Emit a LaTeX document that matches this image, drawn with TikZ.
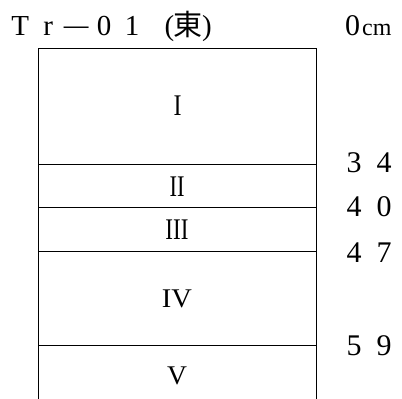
\documentclass[tikz,border=0pt]{standalone}
\usepackage{fontspec}
\usepackage{graphicx}
\setmainfont{Liberation Serif}
\newfontfamily\cjkfont{Noto Sans CJK JP}
\begin{document}
\begin{tikzpicture}[x=1pt,y=1pt,
  layerline/.style={line width=1pt},
  numlabel/.style={inner sep=0pt,anchor=west,font=\fontsize{30}{36}\selectfont},
  romlabel/.style={inner sep=0pt,anchor=center,font=\fontsize{30}{36}\selectfont}]
\useasboundingbox (0,0) rectangle (402,-399);
% title
\node[inner sep=0pt,anchor=base west,font=\fontsize{29}{34}\selectfont] (title) at (6,-35)
  {\makebox[28pt]{T}\makebox[28pt]{r}\makebox[28pt]{\raisebox{1pt}{\scalebox{0.85}[1]{—}}}\makebox[28pt]{0}\makebox[28pt]{1}\makebox[28pt][r]{(}\makebox[28pt]{\cjkfont 東}\makebox[28pt][l]{)}};
\node[inner sep=0pt,anchor=base west,font=\fontsize{30}{36}\selectfont] (zero) at (345,-35)
  {0\kern2pt{\fontsize{24}{28}\selectfont cm}};
% box
\coordinate (tl) at (38,-48);
\coordinate (tr) at (316,-48);
\coordinate (bl) at (38,-399);
\coordinate (br) at (316,-399);
\draw[layerline] (bl) -- (tl) -- (tr) -- (br);
\foreach \name/\y in {a/164.5,b/207.5,c/251.5,d/345.5}{
  \coordinate (\name L) at (38,-\y);
  \coordinate (\name R) at (316,-\y);
  \draw[layerline] (\name L) -- (\name R);
}
% depth labels
\node[numlabel] (n34) at (339,-163) {\makebox[30pt]{3}\makebox[30pt]{4}};
\node[numlabel] (n40) at (339,-207) {\makebox[30pt]{4}\makebox[30pt]{0}};
\node[numlabel] (n47) at (339,-253) {\makebox[30pt]{4}\makebox[30pt]{7}};
\node[numlabel] (n59) at (339,-345.5) {\makebox[30pt]{5}\makebox[30pt]{9}};
% layer labels
\node[romlabel] (L1) at (177.5,-106) {\scalebox{0.8}[1]{I}};
\node[romlabel] (L2) at (177,-187) {\scalebox{0.75}[1]{II}};
\node[romlabel] (L3) at (177,-230) {\scalebox{0.77}[1]{III}};
\node[romlabel] (L4) at (177,-299) {\scalebox{0.95}[0.9]{IV}};
\node[romlabel] (L5) at (177,-376) {\scalebox{0.92}[0.9]{V}};
\end{tikzpicture}
\end{document}
